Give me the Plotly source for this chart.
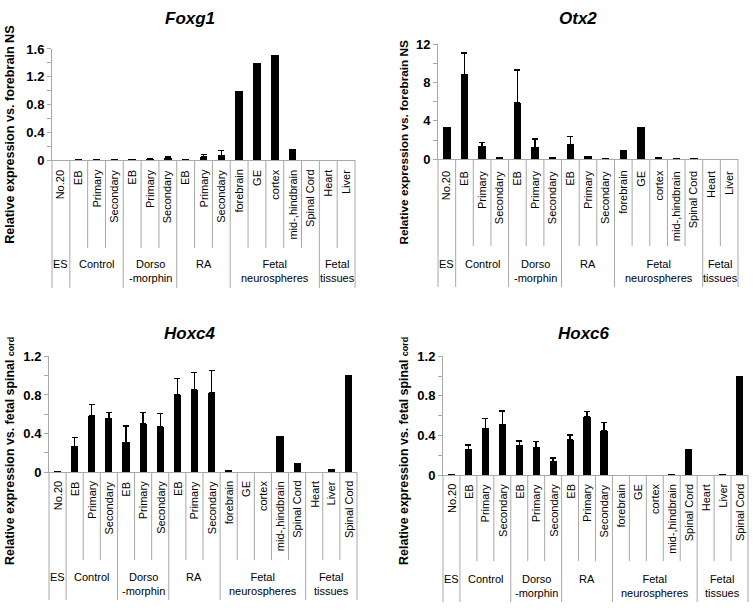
import plotly.graph_objects as go

W, H = 753, 614
FONT = "Liberation Sans, Arial, Helvetica, sans-serif"
GRAY = "#a8a8a8"

# ---------------- data ----------------
cats17 = ["No.20", "EB", "Primary", "Secondary", "EB", "Primary", "Secondary",
          "EB", "Primary", "Secondary", "forebrain", "GE", "cortex",
          "mid-,hindbrain", "Spinal Cord", "Heart", "Liver"]
cats18 = cats17 + ["Spinal Cord"]

groups17 = [("ES", 1), ("Control", 3), ("Dorso<br>-morphin", 3), ("RA", 3),
            ("Fetal<br>neurospheres", 5), ("Fetal<br>tissues", 2)]
groups18 = [("ES", 1), ("Control", 3), ("Dorso<br>-morphin", 3), ("RA", 3),
            ("Fetal<br>neurospheres", 5), ("Fetal<br>tissues", 3)]

foxg1 = [0.002, 0.005, 0.006, 0.007, 0.004, 0.015, 0.025, 0.005, 0.045, 0.07,
         1.0, 1.4, 1.51, 0.16, 0.0, 0.0, 0.0]
foxg1_err = [None, None, None, None, None, 0.01, 0.02, None, 0.035, 0.065,
             None, None, None, None, None, None, None]

otx2 = [3.3, 8.85, 1.35, 0.25, 5.9, 1.22, 0.18, 1.55, 0.28, 0.04,
        1.0, 3.3, 0.22, 0.03, 0.02, 0.0, 0.0]
otx2_err = [None, 2.2, 0.42, None, 3.4, 0.9, None, 0.82, None, None,
            None, None, None, None, None, None, None]

hoxc4 = [0.005, 0.27, 0.585, 0.555, 0.31, 0.50, 0.47, 0.80, 0.85, 0.82,
         0.017, 0.0, 0.0, 0.37, 0.097, 0.0, 0.037, 1.0]
hoxc4_err = [None, 0.09, 0.115, 0.065, 0.17, 0.12, 0.14, 0.17, 0.185, 0.235,
             None, None, None, None, None, None, None, None]

hoxc6 = [0.003, 0.26, 0.47, 0.51, 0.30, 0.28, 0.14, 0.356, 0.59, 0.445,
         0.0, 0.0, 0.0, 0.015, 0.26, 0.0, 0.004, 1.0]
hoxc6_err = [None, 0.045, 0.105, 0.14, 0.045, 0.06, 0.035, 0.05, 0.055, 0.085,
             None, None, None, None, None, None, None, None]

panels = [
    dict(title="Foxg1", cats=cats17, groups=groups17, vals=foxg1, err=foxg1_err,
         ymax=1.6, dtick=0.4, minor=0.2, tickfmt=".1f",
         ytitle="Relative expression vs. forebrain NS", ytfs=12.6,
         x0=52, x1=355, ytop=43, ybot=157, inner=247, long=288, labtop=166,
         grptop=256, tx=190, ty=12, ytx=10, yty=131),
    dict(title="Otx2", cats=cats17, groups=groups17, vals=otx2, err=otx2_err,
         ymax=12, dtick=4, minor=2, tickfmt="d",
         ytitle="Relative expression vs. forebrain NS", ytfs=11.8,
         x0=438, x1=738, ytop=38, ybot=156, inner=245, long=287, labtop=167,
         grptop=256, tx=578, ty=12, ytx=404, yty=139),
    dict(title="Hoxc4", cats=cats18, groups=groups18, vals=hoxc4, err=hoxc4_err,
         ymax=1.2, dtick=0.4, minor=0.2, tickfmt=".1f",
         ytitle="Relative expression vs. fetal spinal <span style='font-size:9px'>cord</span>",
         ytfs=12.4,
         x0=49, x1=357, ytop=358, ybot=477, inner=567, long=608, labtop=485,
         grptop=577, tx=190, ty=335, ytx=10, yty=455),
    dict(title="Hoxc6", cats=cats18, groups=groups18, vals=hoxc6, err=hoxc6_err,
         ymax=1.2, dtick=0.4, minor=0.2, tickfmt=".1f",
         ytitle="Relative expression vs. fetal spinal <span style='font-size:9px'>cord</span>",
         ytfs=12.4,
         x0=443, x1=748, ytop=358, ybot=480, inner=568, long=610, labtop=488,
         grptop=579, tx=584, ty=335, ytx=404, yty=455),
]


def px(x):
    return x / W


def py(y):
    return 1 - y / H


fig = go.Figure()
shapes = []
annotations = []
layout = {}

for i, p in enumerate(panels, start=1):
    xa = "x" if i == 1 else f"x{i}"
    ya = "y" if i == 1 else f"y{i}"
    n = len(p["cats"])
    idx = list(range(n))

    fig.add_trace(go.Bar(x=idx, y=p["vals"], xaxis=xa, yaxis=ya,
                         marker=dict(color="black", line=dict(width=0)),
                         width=0.42, showlegend=False, hoverinfo="skip"))
    ex = [k for k in idx if p["err"][k] is not None]
    fig.add_trace(go.Bar(x=ex, y=[p["vals"][k] for k in ex], xaxis=xa, yaxis=ya,
                         marker=dict(color="rgba(0,0,0,0)", line=dict(width=0)),
                         width=0.42, showlegend=False, hoverinfo="skip",
                         error_y=dict(type="data", symmetric=False,
                                      array=[p["err"][k] for k in ex],
                                      arrayminus=[0] * len(ex),
                                      color="black", thickness=1.4, width=3)))

    layout[("xaxis" if i == 1 else f"xaxis{i}")] = dict(
        domain=[px(p["x0"]), px(p["x1"])], anchor=ya, range=[-0.5, n - 0.5],
        showticklabels=False, ticks="", showgrid=False, zeroline=False,
        showline=True, linecolor=GRAY, linewidth=1, fixedrange=True)
    ticks = []
    v = 0.0
    while v <= p["ymax"] + 1e-9:
        ticks.append(round(v, 6))
        v += p["dtick"]
    layout[("yaxis" if i == 1 else f"yaxis{i}")] = dict(
        domain=[py(p["ybot"]), py(p["ytop"])], anchor=xa, range=[0, p["ymax"]],
        tickvals=ticks,
        ticktext=[(f"{t:.1f}" if p["tickfmt"] == ".1f" else f"{int(t)}") if t != 0 else "0"
                  for t in ticks],
        ticks="outside", ticklen=4, tickcolor=GRAY, tickwidth=1,
        minor=dict(dtick=p["minor"], ticks="outside", ticklen=4, tickcolor=GRAY, tickwidth=1),
        showgrid=False, zeroline=False, showline=True, linecolor=GRAY, linewidth=1,
        tickfont=dict(family=FONT, size=13, color="black", weight="bold"),
        fixedrange=True)

    step = (p["x1"] - p["x0"]) / n
    bounds = {0}
    c = 0
    for _, cnt in p["groups"]:
        c += cnt
        bounds.add(c)
    for k in range(n + 1):
        xk = p["x0"] + k * step
        yb = p["long"] if k in bounds else p["inner"]
        shapes.append(dict(type="line", xref="paper", yref="paper",
                           x0=px(xk), x1=px(xk), y0=py(p["ybot"]), y1=py(yb),
                           line=dict(color=GRAY, width=1)))
    for k, lab in enumerate(p["cats"]):
        annotations.append(dict(text=lab, xref="paper", yref="paper",
                                x=px(p["x0"] + (k + 0.5) * step), y=py(p["labtop"]),
                                xanchor="center", yanchor="top", textangle=-90,
                                showarrow=False, borderpad=0,
                                font=dict(family=FONT, size=11, color="black")))
    c = 0
    for lab, cnt in p["groups"]:
        xc = p["x0"] + (c + cnt / 2) * step
        c += cnt
        annotations.append(dict(text=lab, xref="paper", yref="paper",
                                x=px(xc), y=py(p["grptop"]),
                                xanchor="center", yanchor="top", showarrow=False,
                                borderpad=0,
                                font=dict(family=FONT, size=11, color="black")))
    annotations.append(dict(text=f"<b><i>{p['title']}</i></b>", xref="paper", yref="paper",
                            x=px(p["tx"]), y=py(p["ty"]), xanchor="center", yanchor="middle",
                            showarrow=False, font=dict(family=FONT, size=17, color="black")))
    annotations.append(dict(text=f"<b>{p['ytitle']}</b>", xref="paper", yref="paper",
                            x=px(p["ytx"]), y=py(p["yty"]), xanchor="center",
                            yanchor="middle", textangle=-90, showarrow=False,
                            font=dict(family=FONT, size=p["ytfs"], color="black")))

fig.update_layout(**layout)
fig.update_layout(width=W, height=H, margin=dict(l=0, r=0, t=0, b=0),
                  paper_bgcolor="white", plot_bgcolor="white",
                  barmode="overlay", bargap=0, shapes=shapes, annotations=annotations,
                  showlegend=False, font=dict(family=FONT))

fig.write_html("out.html", config={"displayModeBar": False},
               post_script="document.body.style.margin='0';document.body.style.padding='0';")
